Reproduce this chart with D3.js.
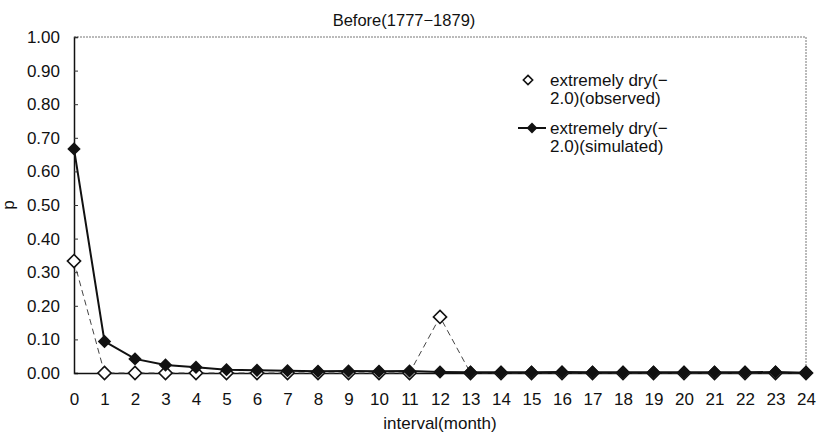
<!DOCTYPE html>
<html>
<head>
<meta charset="utf-8">
<script src="https://cdn.jsdelivr.net/npm/d3@7"></script>
<style>
  body { margin: 0; background: #fff; }
  text { font-family: "Liberation Sans", Arial, sans-serif; fill: #111; }
</style>
</head>
<body>
<svg id="chart" width="819" height="439"></svg>
<script>
// Data
const intervals = d3.range(0, 25);
const observed = [0.333, 0, 0, 0, 0, 0, 0, 0, 0, 0, 0, 0, 0.167,
  0, 0, 0, 0, 0, 0, 0, 0, 0, 0, 0, 0];
const simulated = [0.667, 0.094, 0.042, 0.024, 0.017, 0.010, 0.008, 0.007, 0.005,
  0.006, 0.005, 0.006, 0.003, 0.002, 0.002, 0.002, 0.003, 0.002, 0.002, 0.002,
  0.002, 0.002, 0.002, 0.003, 0.001];
const yTicks = [0, 0.1, 0.2, 0.3, 0.4, 0.5, 0.6, 0.7, 0.8, 0.9, 1.0];
const legendLines = [
  ['extremely dry(\u2212', '2.0)(observed)'],
  ['extremely dry(\u2212', '2.0)(simulated)']
];

const margin = { top: 37, right: 13, bottom: 66, left: 74 };
const width = 819 - margin.left - margin.right;
const height = 439 - margin.top - margin.bottom;

const svg = d3.select('#chart')
  .append('g')
  .attr('transform', `translate(${margin.left},${margin.top})`);

// Scales
const x = d3.scaleLinear().domain([0, 24]).range([0, width]);
const y = d3.scaleLinear().domain([0, 1]).range([height, 0]);

// Plot area border (top and right, dotted grey)
svg.append('path')
  .attr('d', `M0,0H${width}V${height}`)
  .attr('fill', 'none')
  .attr('stroke', '#777')
  .attr('stroke-width', 1)
  .attr('stroke-dasharray', '2,1');

// Y axis with small inward ticks
const yAxis = d3.axisLeft(y)
  .tickValues(yTicks)
  .tickSize(-4)
  .tickPadding(14)
  .tickFormat(d3.format('.2f'));

const gy = svg.append('g').call(yAxis);
gy.select('.domain').attr('stroke', '#111').attr('stroke-width', 1.5);
gy.selectAll('.tick line').attr('stroke', '#333');
gy.selectAll('.tick text').style('font-size', '17px').attr('fill', '#111');

// X axis
const xAxis = d3.axisBottom(x)
  .tickValues(intervals)
  .tickSize(0)
  .tickPadding(20);

const gx = svg.append('g')
  .attr('transform', `translate(0,${height})`)
  .call(xAxis);
gx.select('.domain').attr('stroke', '#111').attr('stroke-width', 1.5);
gx.selectAll('.tick text').style('font-size', '17px').attr('fill', '#111');

// Axis titles
svg.append('text')
  .attr('x', width / 2)
  .attr('y', height + 56)
  .attr('text-anchor', 'middle')
  .style('font-size', '17px')
  .text('interval(month)');

svg.append('text')
  .attr('transform', `translate(${-60},${height / 2})rotate(-90)`)
  .attr('text-anchor', 'middle')
  .style('font-size', '17px')
  .text('p');

// Chart title
d3.select('#chart').append('text')
  .attr('x', 404)
  .attr('y', 26)
  .attr('text-anchor', 'middle')
  .style('font-size', '16.5px')
  .text('Before(1777\u22121879)');

const diamond = d3.symbol().type(d3.symbolDiamond2);
const line = d3.line()
  .x((d, i) => x(intervals[i]))
  .y(d => y(d));

// Observed series: thin dashed line, hollow diamonds
svg.append('path')
  .attr('d', line(observed))
  .attr('fill', 'none')
  .attr('stroke', '#444')
  .attr('stroke-width', 1)
  .attr('stroke-dasharray', '6,4');

svg.selectAll('.obs')
  .data(observed)
  .enter()
  .append('path')
    .attr('class', 'obs')
    .attr('transform', (d, i) => `translate(${x(intervals[i])},${y(d)})`)
    .attr('d', diamond.size(110))
    .attr('fill', '#fff')
    .attr('stroke', '#111')
    .attr('stroke-width', 1.6);

// Simulated series: solid black line, filled diamonds
svg.append('path')
  .attr('d', line(simulated))
  .attr('fill', 'none')
  .attr('stroke', '#111')
  .attr('stroke-width', 2);

svg.selectAll('.sim')
  .data(simulated)
  .enter()
  .append('path')
    .attr('class', 'sim')
    .attr('transform', (d, i) => `translate(${x(intervals[i])},${y(d)})`)
    .attr('d', diamond.size(115))
    .attr('fill', '#111');

// Legend
const legend = d3.select('#chart').append('g');

legend.append('path')
  .attr('transform', 'translate(528,80)')
  .attr('d', diamond.size(55))
  .attr('fill', '#fff')
  .attr('stroke', '#111')
  .attr('stroke-width', 1.6);

legend.append('line')
  .attr('x1', 518).attr('x2', 546)
  .attr('y1', 128).attr('y2', 128)
  .attr('stroke', '#111')
  .attr('stroke-width', 2);

legend.append('path')
  .attr('transform', 'translate(532,128)')
  .attr('d', diamond.size(75))
  .attr('fill', '#111');

legendLines.forEach((lines, k) => {
  lines.forEach((t, j) => {
    legend.append('text')
      .attr('x', 550)
      .attr('y', 86 + k * 48 + j * 18)
      .style('font-size', '17px')
      .text(t);
  });
});
</script>
</body>
</html>
